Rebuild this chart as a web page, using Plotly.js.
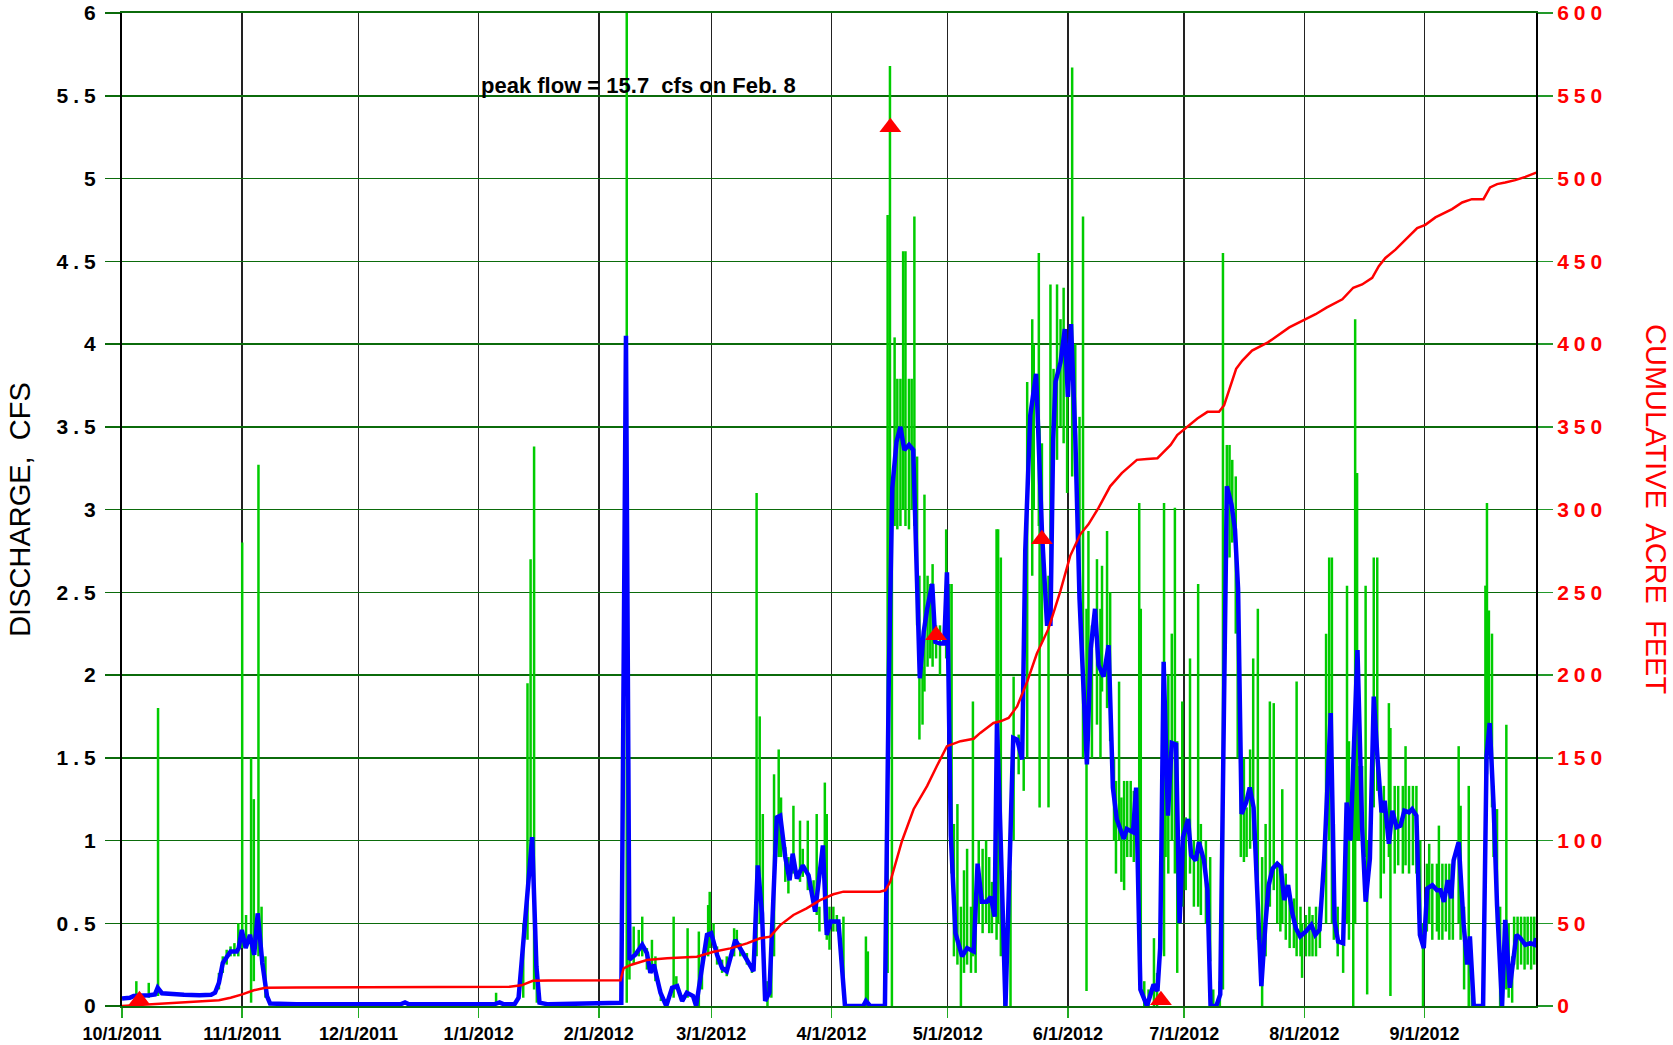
<!DOCTYPE html>
<html>
<head>
<meta charset="utf-8">
<script src="https://cdn.plot.ly/plotly-3.0.1.min.js"></script>
<style>
html,body{margin:0;padding:0;background:#fff;}
g.ytick text, g.y2tick text { letter-spacing: 5px; }
</style>
</head>
<body>
<div id="chart" style="width:1673px;height:1045px;"></div>
<script>
// Day offsets are days since 10/1/2011 (start of water year 2012)
const startDate = '2011-10-01';

// Month tick labels
const tickDates = ['2011-10-01','2011-11-01','2011-12-01','2012-01-01','2012-02-01','2012-03-01',
                   '2012-04-01','2012-05-01','2012-06-01','2012-07-01','2012-08-01','2012-09-01'];
const tickLabels = ['10/1/2011','11/1/2011','12/1/2011','1/1/2012','2/1/2012','3/1/2012',
                    '4/1/2012','5/1/2012','6/1/2012','7/1/2012','8/1/2012','9/1/2012'];

// Daily mean discharge (cfs) - blue
const blueDay = [0,2,3,5,7,8.5,9.2,10.3,13,16,20,23,24,25,26,27,28,29.6,30.1,30.9,31.9,33,34.1,35,36.2,37.4,38.2,
  45,60,72,73,74,85,96,97.4,98.5,101.3,102.3,103,104.3,105.8,106.9,107.7,110,120,128.8,
  130,130.9,132.4,134.2,135.4,136.3,137.2,138.9,140.4,141.9,143.2,144.5,145.7,147.3,148.1,149.6,150.9,152,153.5,154.8,156,
  158.2,159.9,161.2,162.9,164,165.1,165.9,167,168.9,169.8,171.1,172.2,173,174.1,175.6,177.1,178.8,180.8,181.8,182.8,184.8,
  185.4,186.5,191.2,191.9,193,196.8,197.8,198.7,199.8,200.8,201.8,203,204.1,204.9,205.8,206.8,207.7,209,209.8,211.1,212.1,
  212.8,213.8,215,216.7,218,219.7,220.7,221.8,223.1,224.1,225.1,225.7,226.6,227.9,229.9,230.9,232.2,233,234.3,235.8,237.3,
  238.6,239.5,240.2,240.8,242.1,243.2,244,244.8,245.9,247,248.1,248.9,249.9,251,251.9,253.2,254.5,255.6,256.6,258.4,259.2,
  260.8,261.6,262.7,264.4,266.1,267.1,267.8,268.7,269.8,270.8,271.9,272.8,273.7,275,275.8,277,277.8,279.1,280,280.8,282.3,
  283.3,285,286.2,287.1,287.9,288.8,290,290.9,291.9,292.9,293.9,295,295.8,296.8,298,298.9,299.8,300.8,301.9,302.8,303.9,
  305.4,306.8,307.8,308.9,310.1,311.8,312.8,313.7,315,315.9,316.9,318.7,319.9,320.8,321.9,322.9,323.8,324.9,325.7,326.8,
  327.7,328.8,329.8,330.8,332,332.8,333.9,334.8,335.8,336.7,338,339.2,340.1,341,342,342.9,343.5,344.8,346.1,347,347.7,
  348.7,351.1,352,352.8,353.8,354.7,356,356.8,358,359.7,360.7,362,363.3,364.4,364.8];
const blueQ = [0.045,0.05,0.06,0.06,0.065,0.07,0.11,0.077,0.07,0.068,0.065,0.068,0.08,0.14,0.26,0.3,0.33,0.33,0.35,0.46,0.35,0.43,0.31,0.56,0.26,0.06,0.015,
  0.01,0.01,0.012,0.022,0.01,0.01,0.01,0.022,0.01,0.012,0.05,0.24,0.64,1.02,0.24,0.02,0.01,0.015,0.02,
  4.05,0.28,0.31,0.37,0.32,0.2,0.25,0.08,0.0,0.11,0.12,0.03,0.08,0.06,0.0,0.22,0.43,0.44,0.31,0.23,0.21,
  0.4,0.33,0.27,0.21,0.85,0.56,0.03,0.08,1.14,1.15,0.9,0.76,0.92,0.77,0.85,0.79,0.57,0.97,0.43,0.51,0.51,
  0.32,0.0,0.0,0.03,0.0,0.0,1.98,3.13,3.41,3.5,3.36,3.39,3.36,2.6,1.98,2.26,2.4,2.55,2.2,2.19,2.19,
  2.62,1.03,0.44,0.3,0.35,0.33,0.86,0.63,0.63,0.66,0.54,1.71,1.05,0.0,1.62,1.61,1.49,2.75,3.57,3.82,2.87,
  2.31,2.31,3.42,3.77,3.89,4.09,3.68,4.12,3.45,2.46,1.84,1.46,2.16,2.4,2.06,1.99,2.18,1.32,1.13,1.01,1.07,
  1.05,1.32,0.1,0.0,0.13,0.09,0.35,2.08,1.15,1.59,1.58,0.5,1.02,1.13,0.91,0.88,0.99,0.88,0.7,0.0,0.0,
  0.07,3.14,3.03,2.88,2.52,1.16,1.23,1.32,1.2,0.67,0.12,0.51,0.73,0.83,0.86,0.84,0.64,0.73,0.56,0.47,0.42,
  0.45,0.49,0.43,0.46,0.88,1.77,0.51,0.39,0.38,1.23,1.0,2.15,1.08,0.63,0.89,1.87,1.52,1.17,1.24,0.98,
  1.18,1.08,1.09,1.18,1.17,1.19,1.15,0.43,0.35,0.71,0.73,0.7,0.7,0.63,0.76,0.65,0.88,0.99,0.49,0.25,0.42,
  0.0,0.0,1.51,1.71,1.22,0.61,0.0,0.52,0.11,0.43,0.41,0.37,0.38,0.37,0.41];

// Instantaneous discharge range (cfs) - green: day, low, high
const greenDay = [3.7,6.9,9.3,
  25,26,27,28,29,30,31,32,33.3,34,35.2,36,37,
  96.5,103.5,104.6,105.4,106.3,107,
  130.2,
  130.9,132,133.3,134.2,135.4,136.7,137.6,139,142.3,143,145.9,148.8,149.6,151.2,151.6,152.6,153.5,154.8,156,157.9,158.6,159.5,
  161.2,162.5,163.7,164.5,165.3,166.5,167.5,168.2,169.4,170,171.1,171.9,173.2,174.9,175.6,176.9,178.4,179.2,179.9,181.3,181.8,
  182.5,183.5,184.4,186.1,191.9,192.4,
  197.5,198.1,198.6,199.3,200,200.8,201.5,202.1,203,203.7,204.4,205.1,205.7,206.5,207,207.8,208.5,209.1,210,211,212.6,213.4,
  214,214.6,215.5,216.4,217.2,218,219,219.5,220.2,221,222,222.9,223.7,224.4,225.6,226,226.7,227.6,229.2,230,231.3,232.6,
  233.5,234.8,235.2,236.5,236.7,237.3,239,239.5,240.3,241.2,242.1,242.9,243.8,245.1,245.9,247,247.9,248.8,249.3,250.2,251.5,
  252.4,252.8,254.1,254.9,255.9,256.4,257.2,257.8,258.5,259.3,260.2,261,262.4,262.8,263.7,264.8,266.2,267,268.8,269.2,269.9,
  270.8,271.6,272.2,273.5,274.4,275.5,276.5,277.6,278.3,279.6,280.7,281.5,283.2,284,285,285.7,286.4,287.3,287.8,288.6,289.4,
  290.1,291,291.8,293,294.1,295,296.1,297.1,298,298.8,299.3,300.2,301.2,302.3,303,304,304.4,305.4,306.3,307.1,308,309,310.6,
  311.4,312.1,312.6,313.6,315,316,316.5,317.6,318.1,318.6,319.1,319.9,320.8,321.2,322.9,323.8,324.7,325.5,326.8,327.2,328.3,
  329.2,330.4,331.1,332,333,333.9,334.9,335.6,336.6,337.2,338,339.2,339.7,340.6,341.5,342.4,343.3,344.8,345.3,346.2,347.4,
  348.2,351.7,352.1,352.6,353.4,353.8,354.7,355.5,357.1,357.7,358.6,359.1,360,360.9,361.8,362.6,363.5,364.3];
const greenLo = [0.04,0.05,0.06,
  0.1,0.2,0.25,0.3,0.3,0.3,0.35,0.35,0.02,0.15,0.3,0.25,0.05,
  0.01,0.05,0.4,0.8,0.1,0.02,
  0.02,
  0.16,0.25,0.3,0.3,0.22,0.2,0.15,0.03,0.05,0.1,0.05,0,0.1,0.3,0.35,0.35,0.25,0.2,0.18,0.3,0.35,0.3,
  0.25,0.2,0.3,0.5,0.5,0,0.05,0.3,0.9,0.9,0.75,0.68,0.8,0.75,0.78,0.7,0.6,0.55,0.45,0.5,0.4,
  0.34,0.45,0.45,0.1,0,0,
  0.2,2.0,0,2.9,2.88,2.9,3.0,2.9,2.88,3.0,2.9,2.3,1.61,1.7,1.9,2.05,2.1,2.05,2.1,2.0,2.1,1.5,
  0.8,0.3,0.25,0,0.2,0.25,0.2,0.3,0.2,0.5,0.44,0.5,0.44,0.44,0.4,0.5,0.3,0,0,1.0,1.4,1.3,
  1.5,2.6,3.0,2.9,1.2,2.2,1.2,2.3,3.4,3.3,3.5,3.4,3.1,3.2,3.3,2.4,1.5,0.09,1.6,1.5,1.7,
  1.5,1.9,1.8,1.6,1.0,0.8,1.0,0.75,0.7,0.9,0.9,0.87,0.3,0.1,0,0,0,0,0.3,0.9,0.8,
  1.0,0.8,0.2,0.6,0.7,0.8,0.6,0.6,0.55,0.5,0.27,0,0,0.1,2.7,2.71,2.8,2.25,1.5,0.9,0.87,
  0.9,0.95,1.0,0.4,0,0.3,0.6,0.7,0.5,0.45,0.5,0.4,0.35,0.35,0.3,0.3,0.17,0.3,0.3,0.3,0.3,0.35,0.5,
  1.0,0.5,0.4,0.3,0.2,0.5,0.4,0,0.5,1.0,1.0,1.1,0.9,0.07,1.2,1.3,0.65,0.8,0.9,0.06,0.8,
  0.85,0.8,0.85,0.8,0.85,0.8,0.4,0,0.45,0.5,0.4,0.45,0.4,0.4,0.45,0.4,0.4,0.5,0.4,0.1,0,
  0,1.0,1.4,1.6,1.2,0.9,0.5,0,0.1,0.05,0.02,0.25,0.22,0.25,0.22,0.25,0.22,0.25];
const greenHi = [0.15,0.14,1.8,
  0.2,0.3,0.34,0.36,0.38,0.5,2.8,0.55,1.5,1.25,3.27,0.6,0.3,
  0.08,0.5,1.95,2.7,3.38,0.3,
  15.7,
  0.3,0.48,0.46,0.54,0.35,0.4,0.3,0.1,0.54,0.18,0.47,0.45,0.3,0.61,0.69,0.5,0.36,0.28,0.3,0.47,0.46,0.38,
  0.32,0.24,3.1,1.75,1.16,0.15,0.3,1.4,1.55,1.26,0.96,0.9,1.21,1.12,0.95,1.12,0.76,1.16,0.6,1.35,1.16,
  0.6,0.6,0.55,0.54,0.42,0.33,
  4.78,5.68,3.1,4.04,3.79,3.79,4.56,4.56,3.79,3.79,4.77,3.32,2.6,2.05,3.09,2.6,2.55,2.67,2.3,2.3,2.88,2.55,
  2.55,1.1,1.22,0.6,0.82,0.95,0.6,1.84,0.52,1.0,0.95,1.0,0.9,0.75,2.88,2.88,2.71,0.1,0.82,1.99,1.64,1.5,
  3.77,4.15,4.0,4.55,3.5,3.4,2.6,4.36,3.85,4.36,4.15,4.34,3.9,5.67,4.0,3.56,4.77,2.4,2.87,2.3,2.7,
  2.4,2.66,2.87,2.5,1.5,1.36,1.96,1.26,1.36,1.36,1.36,1.3,3.04,2.4,0.15,0.1,0.41,0.2,3.04,1.83,2.0,
  2.25,3.01,1.6,1.84,1.14,2.1,1.0,2.55,1.1,1.0,0.9,0.1,0.15,4.55,3.39,3.39,3.3,3.2,2.6,1.57,1.5,
  1.2,1.55,2.1,2.4,0.9,1.1,1.84,1.83,0.87,0.85,1.31,0.8,0.7,0.65,1.96,0.6,0.5,0.55,0.6,0.55,0.6,0.6,2.25,
  2.71,2.71,1.1,0.6,0.5,2.54,1.6,1.3,4.15,3.22,1.45,1.45,2.54,1.0,2.71,2.71,1.3,1.33,1.83,1.68,1.33,
  1.33,1.33,1.57,1.33,1.33,1.33,1.0,0.5,0.86,0.98,0.86,0.86,1.09,0.86,0.86,0.86,0.86,1.57,1.21,0.6,1.33,
  0.2,2.54,3.04,2.39,2.25,1.33,1.19,0.6,1.7,0.5,0.3,0.54,0.54,0.54,0.54,0.54,0.54,0.54];

// Cumulative runoff (acre-feet) - red
const cumDay = [0,10,20,25,28,31,34,37,45,60,80,100,103,106,110,128.6,129.4,131.2,135.4,140.6,148.3,152.6,156.9,161.2,
  164.6,167.2,169.8,173.2,176.6,180.1,183.5,186.1,195.5,196.9,198.2,201.2,204.2,207.7,210.2,212.8,216.3,219.7,221.4,
  224.8,226.6,228.7,230.9,233.5,236,239,242.1,244.6,247.2,249.3,251.9,254.9,257.9,260.5,261.8,264.4,267.1,268.4,270.5,
  272.2,274.8,277.4,280,283,284.3,286.4,287.4,289,291.5,295.6,301.1,307.9,310.7,314.8,317.6,319.9,322.5,324.2,325.9,
  328.5,331.1,334.1,336.2,338.8,343.1,345.7,348.2,351.2,352.9,354.7,356.8,359.4,362,364.8];
const cumAF = [0,1.5,3,3.5,5,7,9.5,11,11.2,11.3,11.5,11.7,12.5,15.2,15.4,15.5,22.8,24.8,27.8,28.8,29.8,32.8,34.8,37.8,
  40.9,41.9,48.9,55,59,64,67.5,69.1,69.1,69.9,75.2,99.7,118.9,133,145,157,160,161.5,165,
  171,172,174,181,196,213,228,251,272,285,291,301,314,322,327.5,330,330.5,331,334,339,
  345,350,355,359,359,363,378,385,390,396,401,410,418,422,427,434,436,440,447,452,
  457,463,470,472,476.5,481.5,485.5,487.5,487.5,494.6,496.6,497.6,499,501,503.6];

// Sample markers (red triangles)
const markDay = [4.5,198.2,210,237.3,268];
const markQ = [0.035,5.31,2.24,2.82,0.035];

const base = Date.UTC(2011, 9, 1);
const toX = d => new Date(base + d * 86400000).toISOString().replace('T',' ').slice(0,19);

// vertical green segments
const gx = [], gy = [];
for (let i = 0; i < greenDay.length; i++) {
  const x = toX(greenDay[i]);
  gx.push(x, x, null);
  gy.push(greenLo[i], greenHi[i], null);
}

const traces = [
  {x: gx, y: gy, type: 'scatter', mode: 'lines', line: {color: '#00cc00', width: 2.5}, connectgaps: false, hoverinfo: 'skip'},
  {x: cumDay.map(toX), y: cumAF, yaxis: 'y2', type: 'scatter', mode: 'lines', line: {color: '#ff0000', width: 2.5}},
  {x: blueDay.map(toX), y: blueQ, type: 'scatter', mode: 'lines', line: {color: '#0000ff', width: 4.5}},
  {x: markDay.map(toX), y: markQ, type: 'scatter', mode: 'markers', cliponaxis: false,
   marker: {symbol: 'triangle-up', size: 19, color: '#ff0000'}}
];

const tickFontY = {family: 'Liberation Sans, Arial, sans-serif', size: 21, weight: 'bold', color: '#000'};

const layout = {
  width: 1673, height: 1045,
  margin: {l: 122, r: 137, t: 13, b: 39},
  paper_bgcolor: '#fff', plot_bgcolor: '#fff',
  showlegend: false,
  xaxis: {
    type: 'date',
    range: [toX(0), toX(364.75)],
    tickmode: 'array', tickvals: tickDates, ticktext: tickLabels,
    tickfont: {family: 'Liberation Sans, Arial, sans-serif', size: 18, weight: 'bold', color: '#000'},
    ticks: 'outside', ticklen: 10, tickwidth: 1.5, tickcolor: '#22aa22',
    showgrid: true, gridcolor: '#222', gridwidth: 1.5,
    showline: true, linecolor: '#0b6b0b', linewidth: 2, mirror: true,
    zeroline: false
  },
  yaxis: {
    range: [0, 6], tick0: 0, dtick: 0.5,
    tickfont: tickFontY,
    ticks: 'outside', ticklen: 15, tickwidth: 1.5, tickcolor: '#0b6b0b',
    showgrid: true, gridcolor: '#0b6b0b', gridwidth: 1.5,
    showline: true, linecolor: '#000', linewidth: 2,
    zeroline: false
  },
  yaxis2: {
    overlaying: 'y', side: 'right',
    range: [0, 600], tick0: 0, dtick: 50,
    tickfont: Object.assign({}, tickFontY, {color: '#ff0000'}),
    ticks: 'outside', ticklen: 15, tickwidth: 1.5, tickcolor: '#22992a',
    showgrid: false,
    showline: true, linecolor: '#000', linewidth: 2,
    zeroline: false
  },
  annotations: [
    {text: 'DISCHARGE,  CFS', xref: 'paper', yref: 'paper', x: -0.0726, y: 0.5,
     xanchor: 'center', yanchor: 'middle', textangle: -90, showarrow: false,
     font: {family: 'Liberation Sans, Arial, sans-serif', size: 29, color: '#000'}},
    {text: 'CUMULATIVE  ACRE  FEET', xref: 'paper', yref: 'paper', x: 1.0852, y: 0.5,
     xanchor: 'center', yanchor: 'middle', textangle: 90, showarrow: false,
     font: {family: 'Liberation Sans, Arial, sans-serif', size: 29, color: '#ff0000'}},
    {text: 'peak flow = 15.7  cfs on Feb. 8', xref: 'paper', yref: 'paper', x: 0.3652, y: 0.9273,
     xanchor: 'center', yanchor: 'middle', showarrow: false,
     font: {family: 'Liberation Sans, Arial, sans-serif', size: 22, weight: 'bold', color: '#000'}}
  ]
};

Plotly.newPlot('chart', traces, layout, {displayModeBar: false, staticPlot: true});
</script>
</body>
</html>
